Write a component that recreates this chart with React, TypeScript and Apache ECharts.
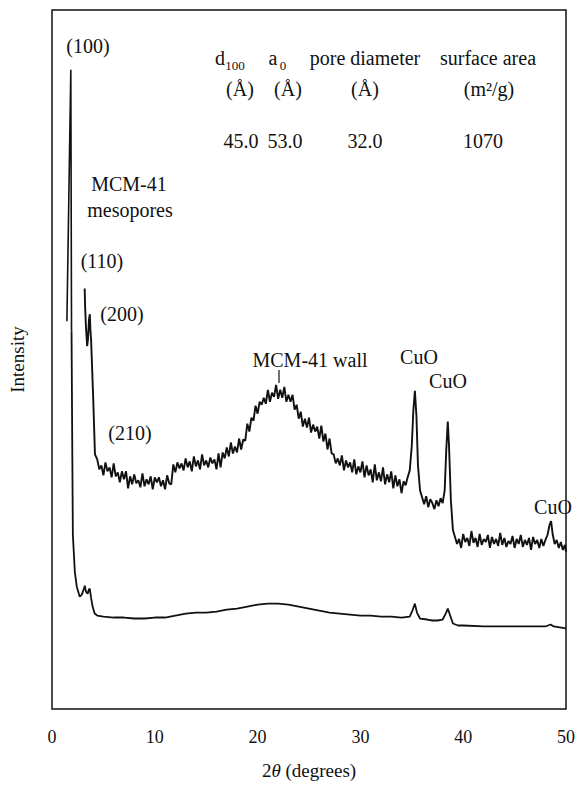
import React, { useEffect, useRef } from "react";
import * as echarts from "echarts";

// 2θ (degrees), intensity (arbitrary units)
const upperLowAngle: number[][] = [
  [1.45, 390], [1.83, 643], [1.9, 380],
];

const upperMain: number[][] = [
  [3.18, 423], [3.22, 405], [3.3, 385], [3.42, 365], [3.5, 372], [3.6, 392], [3.68, 397],
  [3.74, 380], [3.8, 372], [4.0, 315], [4.18, 256],
  [4.4, 251], [4.6, 241], [4.8, 245], [5.0, 235], [5.2, 248], [5.4, 239], [5.6, 243],
  [5.8, 233], [6.0, 247], [6.2, 234], [6.4, 238], [6.6, 228], [6.8, 239], [7.0, 231],
  [7.2, 239], [7.4, 222], [7.6, 234], [7.8, 226], [8.0, 236], [8.2, 227], [8.4, 230],
  [8.6, 223], [8.8, 237], [9.0, 224], [9.2, 231], [9.4, 226], [9.6, 234], [9.8, 221],
  [10.0, 233], [10.2, 228], [10.4, 233], [10.6, 224], [10.8, 230], [11.0, 221], [11.2, 235],
  [11.4, 227], [11.6, 226], [11.8, 246], [12.0, 238], [12.2, 248], [12.4, 242], [12.6, 247],
  [12.8, 240], [13.0, 252], [13.2, 243], [13.4, 249], [13.6, 239], [13.8, 254], [14.0, 244],
  [14.2, 250], [14.4, 241], [14.6, 256], [14.8, 245], [15.0, 250], [15.2, 243], [15.4, 253],
  [15.6, 247], [15.8, 251], [16.0, 241], [16.2, 257], [16.4, 243], [16.6, 258], [16.8, 252],
  [17.0, 263], [17.2, 254], [17.4, 268], [17.6, 257], [17.8, 264], [18.0, 258], [18.2, 272],
  [18.4, 261], [18.6, 271], [18.8, 270], [19.0, 287], [19.2, 279], [19.4, 293], [19.6, 290],
  [19.8, 305], [20.0, 297], [20.2, 309], [20.4, 306], [20.6, 313], [20.8, 307], [21.0, 321],
  [21.2, 309], [21.4, 318], [21.6, 314], [21.8, 326], [22.0, 312], [22.2, 321], [22.4, 313],
  [22.6, 324], [22.8, 309], [23.0, 316], [23.2, 309], [23.4, 316], [23.6, 301], [23.8, 306],
  [24.0, 292], [24.2, 299], [24.4, 284], [24.6, 292], [24.8, 283], [25.0, 293], [25.2, 278],
  [25.4, 286], [25.6, 279], [25.8, 284], [26.0, 272], [26.2, 285], [26.4, 269], [26.6, 277],
  [26.8, 261], [27.0, 272], [27.2, 257], [27.4, 256], [27.6, 247], [27.8, 252], [28.0, 245],
  [28.2, 255], [28.4, 240], [28.6, 250], [28.8, 243], [29.0, 248], [29.2, 238], [29.4, 251],
  [29.6, 236], [29.8, 244], [30.0, 238], [30.2, 249], [30.4, 233], [30.6, 245], [30.8, 235],
  [31.0, 241], [31.2, 228], [31.4, 246], [31.6, 230], [31.8, 238], [32.0, 229], [32.2, 243],
  [32.4, 226], [32.6, 236], [32.8, 228], [33.0, 239], [33.2, 222], [33.4, 235], [33.6, 224],
  [33.8, 231], [34.0, 217], [34.2, 229], [34.4, 225], [34.6, 233], [34.8, 240], [35.0, 265],
  [35.15, 300], [35.3, 320], [35.45, 295], [35.6, 245], [35.8, 220], [36.0, 213], [36.2, 206],
  [36.4, 214], [36.6, 203], [36.8, 211], [37.0, 207], [37.2, 201], [37.4, 210], [37.6, 204],
  [37.8, 212], [38.0, 207], [38.2, 220], [38.35, 260], [38.5, 289], [38.62, 265], [38.8, 210],
  [39.0, 180], [39.2, 173], [39.4, 166], [39.6, 171], [39.8, 162], [40.0, 176], [40.2, 168],
  [40.4, 172], [40.6, 164], [40.8, 179], [41.0, 167], [41.2, 172], [41.4, 163], [41.6, 176],
  [41.8, 165], [42.0, 171], [42.2, 168], [42.4, 175], [42.6, 162], [42.8, 173], [43.0, 166],
  [43.2, 171], [43.4, 164], [43.6, 177], [43.8, 165], [44.0, 172], [44.2, 163], [44.4, 169],
  [44.6, 166], [44.8, 174], [45.0, 162], [45.2, 171], [45.4, 166], [45.6, 175], [45.8, 163],
  [46.0, 170], [46.2, 165], [46.4, 172], [46.6, 160], [46.8, 173], [47.0, 166], [47.2, 170],
  [47.4, 162], [47.6, 171], [47.8, 164], [48.0, 170], [48.2, 175], [48.4, 185], [48.55, 189],
  [48.7, 176], [48.9, 166], [49.1, 170], [49.3, 162], [49.5, 168], [49.7, 160], [49.9, 165],
  [50.0, 158],
];

const lower: number[][] = [
  [1.9, 380], [1.98, 250], [2.03, 175], [2.22, 138], [2.41, 123], [2.7, 113], [2.9, 115],
  [3.1, 121], [3.19, 124], [3.3, 118], [3.47, 116], [3.58, 120], [3.67, 121], [3.8, 112],
  [3.95, 103], [4.15, 96], [4.4, 94], [5, 93], [6, 92], [7, 92], [8, 91], [9, 91], [10, 92],
  [11, 92], [12, 94], [13, 96], [14, 97], [15, 97], [16, 98], [17, 100], [18, 101], [19, 103],
  [20, 105], [21, 106], [22, 106], [23, 105], [24, 103], [25, 101], [26, 99], [27, 97],
  [28, 96], [29, 95], [30, 94], [31, 94], [32, 93], [33, 93], [34, 92], [34.8, 93],
  [35.1, 100], [35.3, 106], [35.5, 97], [35.8, 91], [36.5, 90], [37, 89], [37.5, 89],
  [38, 90], [38.3, 96], [38.5, 101], [38.7, 95], [39, 86], [39.5, 84], [40, 84], [42, 83],
  [44, 83], [46, 83], [48, 83], [48.5, 85], [48.8, 83], [50, 81],
];

const xTicks = { min: 0, max: 50, interval: 10 };
const yRange = { min: 0, max: 703 };

const SERIF = "Liberation Serif";

function txt(text: string, x: number, y: number, size = 20) {
  return {
    type: "text",
    style: {
      text,
      x,
      y,
      fill: "#111",
      fontSize: size,
      fontFamily: SERIF,
      textAlign: "center",
      textVerticalAlign: "middle",
      align: "center",
      verticalAlign: "middle",
    },
    z: 10,
  };
}

export default function App() {
  const ref = useRef<HTMLDivElement>(null);
  useEffect(() => {
    if (!ref.current) return;
    const chart = echarts.init(ref.current, null, { renderer: "svg" });
    chart.setOption({
      animation: false,
      backgroundColor: "#fff",
      textStyle: { fontFamily: SERIF },
      grid: {
        left: 50,
        right: 10,
        top: 10,
        bottom: 72,
        show: true,
        borderColor: "#111",
        borderWidth: 1.5,
        backgroundColor: "transparent",
      },
      xAxis: {
        type: "value",
        min: xTicks.min,
        max: xTicks.max,
        interval: xTicks.interval,
        axisLine: { show: false },
        axisTick: { show: false },
        splitLine: { show: false },
        axisLabel: { color: "#111", fontFamily: SERIF, fontSize: 18, margin: 19 },
        name: "{n|2}{i|θ}{n| (degrees)}",
        nameLocation: "middle",
        nameGap: 52,
        nameTextStyle: {
          color: "#111",
          fontFamily: SERIF,
          fontSize: 19,
          rich: {
            n: { fontFamily: SERIF, fontSize: 19, color: "#111" },
            i: { fontFamily: SERIF, fontSize: 19, color: "#111", fontStyle: "italic" },
          },
        },
      },
      yAxis: {
        type: "value",
        min: yRange.min,
        max: yRange.max,
        axisLine: { show: false },
        axisTick: { show: false },
        splitLine: { show: false },
        axisLabel: { show: false },
        name: "Intensity",
        nameLocation: "middle",
        nameGap: 25,
        nameRotate: 90,
        nameTextStyle: { color: "#111", fontFamily: SERIF, fontSize: 19 },
      },
      series: [
        { type: "line", data: upperLowAngle, showSymbol: false, symbol: "none", lineStyle: { color: "#111", width: 1.6 } },
        { type: "line", data: upperMain, showSymbol: false, symbol: "none", lineStyle: { color: "#111", width: 1.9 } },
        { type: "line", data: lower, showSymbol: false, symbol: "none", lineStyle: { color: "#111", width: 1.8 } },
      ],
      graphic: [
        txt("(100)", 88, 46),
        txt("d", 220, 58),
        txt("100", 235, 65, 13),
        txt("a", 273, 58),
        txt("0", 283, 65, 13),
        txt("pore diameter", 365, 58),
        txt("surface area", 488, 58),
        txt("(Å)", 240, 89),
        txt("(Å)", 288, 89),
        txt("(Å)", 365, 89),
        txt("(m²/g)", 489, 89),
        txt("45.0", 241, 141),
        txt("53.0", 285, 141),
        txt("32.0", 365, 141),
        txt("1070", 483, 141),
        txt("MCM-41", 129, 184),
        txt("mesopores", 130, 210),
        txt("(110)", 102, 261),
        txt("(200)", 122, 314),
        txt("(210)", 130, 433),
        txt("MCM-41 wall", 310, 360),
        txt("CuO", 419, 357),
        txt("CuO", 448, 381),
        txt("CuO", 553, 507),
        {
          type: "line",
          shape: { x1: 279, y1: 370, x2: 279, y2: 383 },
          style: { stroke: "#111", lineWidth: 1.2 },
          z: 10,
        },
      ],
    });
    return () => chart.dispose();
  }, []);
  return (
    <div
      ref={ref}
      style={{ position: "fixed", left: 0, top: 0, width: 578, height: 785, background: "#fff" }}
    />
  );
}
